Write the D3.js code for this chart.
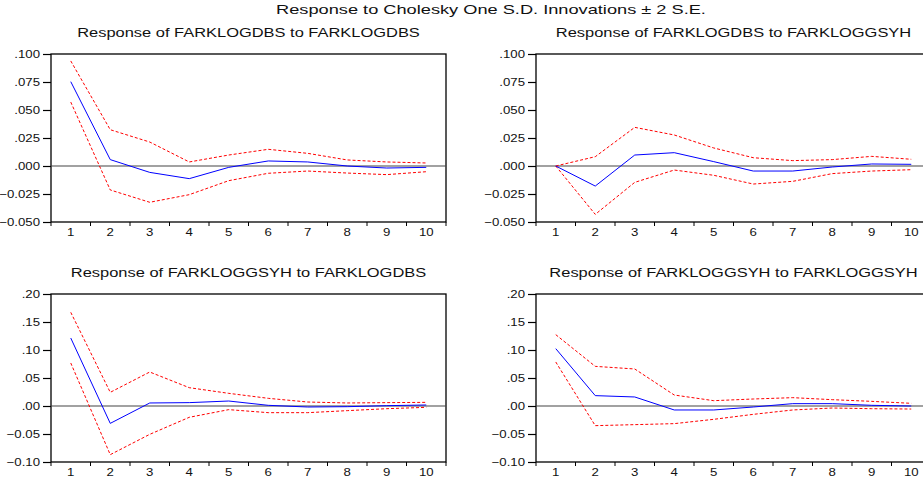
<!DOCTYPE html>
<html>
<head>
<meta charset="utf-8">
<script src="https://cdn.jsdelivr.net/npm/d3@7"></script>
<style>
  body { margin: 0; background: #fff; }
  svg { display: block; font-family: "Liberation Sans", Arial, sans-serif; }
</style>
</head>
<body>
<script>
"use strict"

// periods on the x-axis
const periods = [1, 2, 3, 4, 5, 6, 7, 8, 9, 10]

// panel titles
const mainTitle = "Response to Cholesky One S.D. Innovations \u00b1 2 S.E."
const titles = [
  "Response of FARKLOGDBS to FARKLOGDBS",
  "Response of FARKLOGDBS to FARKLOGGSYH",
  "Response of FARKLOGGSYH to FARKLOGDBS",
  "Response of FARKLOGGSYH to FARKLOGGSYH",
]

// y tick values for each row of panels
const ticksTop    = [-0.050, -0.025, 0.000, 0.025, 0.050, 0.075, 0.100]
const ticksBottom = [-0.10, -0.05, 0.00, 0.05, 0.10, 0.15, 0.20]

// impulse responses (blue) and +/- 2 S.E. bands (red dashed)
const resp11  = [0.0753, 0.0057, -0.0057, -0.0113, -0.0012, 0.0045, 0.0036, 0.0000, -0.0018, -0.0012]
const upper11 = [0.0938, 0.0324, 0.0214, 0.0036, 0.0098, 0.0149, 0.0113, 0.0054, 0.0036, 0.0027]
const lower11 = [0.0571, -0.0214, -0.0324, -0.0256, -0.0131, -0.0065, -0.0045, -0.0063, -0.0077, -0.0051]

const resp12  = [0.0000, -0.0179, 0.0098, 0.0119, 0.0039, -0.0045, -0.0045, -0.0009, 0.0018, 0.0015]
const upper12 = [0.0000, 0.0083, 0.0345, 0.0277, 0.0161, 0.0074, 0.0048, 0.0057, 0.0086, 0.0060]
const lower12 = [0.0000, -0.0432, -0.0146, -0.0036, -0.0083, -0.0161, -0.0137, -0.0068, -0.0045, -0.0033]

const resp21  = [0.1214, -0.0310, 0.0054, 0.0060, 0.0089, 0.0012, -0.0018, -0.0012, 0.0006, 0.0018]
const upper21 = [0.1673, 0.0244, 0.0607, 0.0327, 0.0226, 0.0137, 0.0071, 0.0054, 0.0060, 0.0065]
const lower21 = [0.0768, -0.0869, -0.0506, -0.0202, -0.0065, -0.0119, -0.0119, -0.0083, -0.0048, -0.0024]

const resp22  = [0.1024, 0.0185, 0.0161, -0.0071, -0.0071, -0.0018, 0.0042, 0.0042, 0.0012, 0.0000]
const upper22 = [0.1274, 0.0708, 0.0661, 0.0196, 0.0095, 0.0125, 0.0149, 0.0113, 0.0083, 0.0048]
const lower22 = [0.0786, -0.0351, -0.0333, -0.0315, -0.0238, -0.0149, -0.0071, -0.0036, -0.0048, -0.0054]

const panels = [
  { title : titles[0], resp : resp11, upper : upper11, lower : lower11, ticks : ticksTop,    fmt : ".3f", col : 0, row : 0 },
  { title : titles[1], resp : resp12, upper : upper12, lower : lower12, ticks : ticksTop,    fmt : ".3f", col : 1, row : 0 },
  { title : titles[2], resp : resp21, upper : upper21, lower : lower21, ticks : ticksBottom, fmt : ".2f", col : 0, row : 1 },
  { title : titles[3], resp : resp22, upper : upper22, lower : lower22, ticks : ticksBottom, fmt : ".2f", col : 1, row : 1 },
]

// layout
const W = 923, H = 483
const plotW = 395, plotH = 168
const lefts = [51, 536], tops = [54, 294]

// the original's text is drawn wider than the font normally is
const stretch = factor => sel => sel.each(function () {
  const n = this.getComputedTextLength()
  d3.select(this).attr("textLength", n * factor).attr("lengthAdjust", "spacingAndGlyphs")
})

const svg = d3.select("body").append("svg")
  .attr("width", W)
  .attr("height", H)

svg.append("text")
  .attr("x", (lefts[1] + plotW + lefts[0]) / 2)
  .attr("y", 14)
  .attr("text-anchor", "middle")
  .attr("font-size", 13)
  .attr("fill", "#111")
  .text(mainTitle)
  .call(stretch(1.4))

const x = d3.scaleBand().domain(periods).range([0, plotW])
const xc = d => x(d) + x.bandwidth() / 2
const stripZero = f => v => d3.format(f)(v).replace(/^(-?)0\./, "$1.")

panels.forEach(p => {
  const g = svg.append("g")
    .attr("transform", `translate(${lefts[p.col]},${tops[p.row]})`)

  const y = d3.scaleLinear()
    .domain([p.ticks[0], p.ticks[p.ticks.length - 1]])
    .range([plotH, 0])

  g.append("text")
    .attr("x", plotW / 2)
    .attr("y", -17)
    .attr("text-anchor", "middle")
    .attr("font-size", 12)
    .attr("fill", "#111")
    .text(p.title)
    .call(stretch(1.37))

  // frame
  g.append("rect")
    .attr("width", plotW)
    .attr("height", plotH)
    .attr("fill", "#fff")
    .attr("stroke", "#000")
    .attr("stroke-width", 1.3)

  // y axis
  const ya = g.append("g").call(
    d3.axisLeft(y).tickValues(p.ticks).tickFormat(stripZero(p.fmt)).tickSize(8).tickPadding(3)
  )
  ya.select(".domain").remove()
  ya.selectAll("line").attr("stroke", "#000").attr("stroke-width", 1.2)
  ya.selectAll("text").attr("font-size", 11).attr("fill", "#111")
    .attr("font-family", "'Liberation Sans', Arial, sans-serif")
    .call(stretch(1.2))

  // x axis: ticks at band edges, labels at band centres
  const xa = g.append("g").attr("transform", `translate(0,${plotH})`)
  xa.selectAll("line")
    .data(periods.map(d => x(d)).concat([plotW]))
    .join("line")
    .attr("x1", d => d).attr("x2", d => d)
    .attr("y1", 0).attr("y2", 4)
    .attr("stroke", "#000")
  xa.selectAll("text")
    .data(periods)
    .join("text")
    .attr("x", xc)
    .attr("y", 14)
    .attr("text-anchor", "middle")
    .attr("font-size", 11)
    .attr("fill", "#111")
    .text(d => d)
    .call(stretch(1.2))

  // zero line
  g.append("line")
    .attr("x1", 0).attr("x2", plotW)
    .attr("y1", y(0)).attr("y2", y(0))
    .attr("stroke", "#444")
    .attr("stroke-width", 1.2)

  const line = d3.line().x((v, i) => xc(periods[i])).y(v => y(v))

  g.append("path").attr("d", line(p.upper))
    .attr("fill", "none").attr("stroke", "#ff0000").attr("stroke-dasharray", "3,2")
  g.append("path").attr("d", line(p.lower))
    .attr("fill", "none").attr("stroke", "#ff0000").attr("stroke-dasharray", "3,2")
  g.append("path").attr("d", line(p.resp))
    .attr("fill", "none").attr("stroke", "#0000ff")
})
</script>
</body>
</html>
